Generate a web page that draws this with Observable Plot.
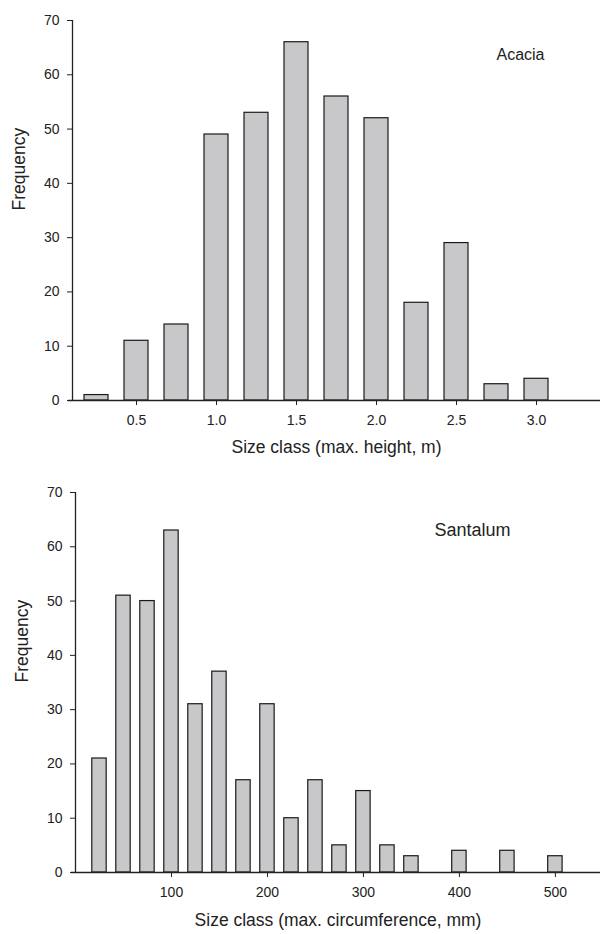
<!DOCTYPE html>
<html>
<head>
<meta charset="utf-8">
<script src="https://cdn.jsdelivr.net/npm/d3@7"></script>
<script src="https://cdn.jsdelivr.net/npm/@observablehq/plot@0.6"></script>
<style>
  body { margin: 0; background: #fff; }
  #chart svg { display: block; }
</style>
</head>
<body>
<div id="chart"></div>
<script>
// Acacia: size class (max. height, m) and frequency
const acaciaClasses = [0.25, 0.5, 0.75, 1.0, 1.25, 1.5, 1.75, 2.0, 2.25, 2.5, 2.75, 3.0];
const acaciaFreq    = [1, 11, 14, 49, 53, 66, 56, 52, 18, 29, 3, 4];
const acaciaXTicks  = [0.5, 1.0, 1.5, 2.0, 2.5, 3.0];

// Santalum: size class (max. circumference, mm) and frequency
const santalumClasses = [25, 50, 75, 100, 125, 150, 175, 200, 225, 250, 275, 300, 325, 350, 400, 450, 500];
const santalumFreq    = [21, 51, 50, 63, 31, 37, 17, 31, 10, 17, 5, 15, 5, 3, 4, 4, 3];
const santalumXTicks  = [100, 200, 300, 400, 500];

const yTicks = [0, 10, 20, 30, 40, 50, 60, 70];

const FONT = "'Liberation Sans', Arial, Helvetica, sans-serif";
const INK = "#222";
const BAR_FILL = "#c8c8ca";

function panel({classes, freq, xDomain, xTicks, tickFmt, barHalf, marginLeft, marginTop, marginBottom,
                height, xLabel, name, freqDx, labelDy, nameDx, nameDy, nameSize}) {
  const data = classes.map((c, i) => ({c, f: freq[i]}));
  return Plot.plot({
    width: 600,
    height,
    marginLeft,
    marginRight: 0,
    marginTop,
    marginBottom,
    style: {fontFamily: FONT, fontSize: "14px", color: INK, background: "#fff", overflow: "visible"},
    x: {domain: xDomain},
    y: {domain: [0, 70]},
    marks: [
      Plot.rectY(data, {
        x1: d => d.c - barHalf, x2: d => d.c + barHalf, y1: 0, y2: "f",
        fill: BAR_FILL, stroke: "#1a1a1a", strokeWidth: 1.2
      }),
      Plot.axisY({ticks: yTicks, tickSize: 5, tickPadding: 8, tickFormat: d => String(d),
                  label: null, stroke: INK, fill: INK}),
      Plot.axisX({ticks: xTicks, tickSize: 5, tickPadding: 10, tickFormat: tickFmt,
                  label: null, stroke: INK, fill: INK}),
      Plot.ruleX([xDomain[0]], {stroke: INK, strokeWidth: 1.3}),
      Plot.ruleY([0], {stroke: INK, strokeWidth: 1.3, insetLeft: -4}),
      Plot.text(["Frequency"], {frameAnchor: "left", dx: freqDx, rotate: -90,
                                fontSize: 17.5, fill: INK}),
      Plot.text([xLabel], {frameAnchor: "bottom", dy: labelDy, fontSize: 17.5, fill: INK}),
      Plot.text([name], {frameAnchor: "top-right", textAnchor: "end", dx: nameDx, dy: nameDy,
                         fontSize: nameSize, fill: INK})
    ]
  });
}

const acaciaPlot = panel({
  classes: acaciaClasses, freq: acaciaFreq,
  xDomain: [0.1, 3.4], xTicks: acaciaXTicks, tickFmt: d3.format(".1f"), barHalf: 0.075,
  marginLeft: 72, marginTop: 20, marginBottom: 67, height: 467,
  xLabel: "Size class (max. height, m)", name: "Acacia",
  freqDx: -53, labelDy: 52, nameDx: -56, nameDy: 28, nameSize: 16
});

const santalumPlot = panel({
  classes: santalumClasses, freq: santalumFreq,
  xDomain: [0, 547], xTicks: santalumXTicks, tickFmt: d => String(d), barHalf: 7.5,
  marginLeft: 75, marginTop: 25, marginBottom: 62, height: 467,
  xLabel: "Size class (max. circumference, mm)", name: "Santalum",
  freqDx: -53, labelDy: 53, nameDx: -90, nameDy: 31, nameSize: 18
});

document.getElementById("chart").append(acaciaPlot, santalumPlot);
</script>
</body>
</html>
